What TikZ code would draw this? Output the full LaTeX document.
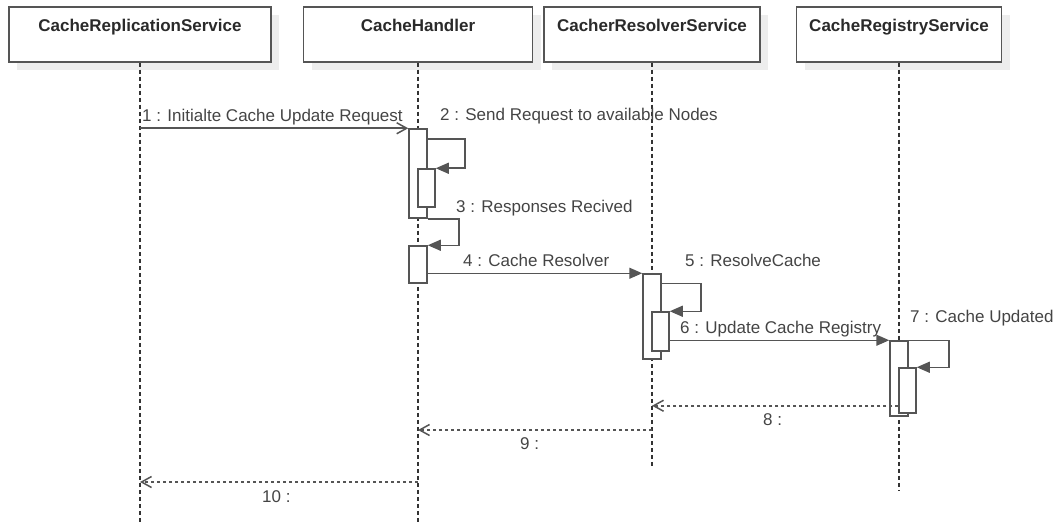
\documentclass[tikz,border=0pt]{standalone}
\usepackage{fontspec}
\setmainfont{Liberation Sans}
\usetikzlibrary{arrows.meta,shadows,calc}

\definecolor{edge}{HTML}{555555}
\definecolor{ink}{HTML}{2A2A2A}
\definecolor{msgink}{HTML}{444444}
\definecolor{life}{HTML}{333333}
\definecolor{shade}{HTML}{EDEDED}

\begin{document}
\begin{tikzpicture}[x=1pt,y=-1pt,
  header/.style={draw=edge, line width=1.5pt, fill=white, inner sep=0pt,
    minimum height=55pt, text height=24.5pt, text depth=30.5pt,
    font=\fontsize{17}{20}\selectfont\bfseries, text=ink,
    drop shadow={shadow xshift=8pt, shadow yshift=-8pt, fill=shade, opacity=1}},
  lifeline/.style={draw=life, line width=1.2pt, dash pattern=on 4pt off 3pt},
  act/.style={draw=edge, line width=1.5pt, fill=white, inner sep=0pt, minimum width=18pt},
  inneract/.style={act, minimum width=17pt},
  call/.style={draw=edge, line width=1.5pt, -{Triangle[length=13pt,width=11pt]}},
  request/.style={draw=edge, line width=1.5pt, -{Straight Barb[length=10pt,width=11pt]}},
  reply/.style={draw=edge, line width=1.5pt, dash pattern=on 3pt off 3pt,
    -{Straight Barb[length=10pt,width=11pt]}},
  msglabel/.style={anchor=base west, inner sep=0pt,
    font=\fontsize{17}{20}\selectfont, text=msgink},
]
\useasboundingbox (0,0) rectangle (1061,524);

% participants
\node[header, minimum width=262pt] (h1) at (140,34.5) {CacheReplicationService};
\node[header, minimum width=229pt] (h2) at (418,34.5) {CacheHandler};
\node[header, minimum width=216pt] (h3) at (652,34.5) {CacherResolverService};
\node[header, minimum width=205pt] (h4) at (899,34.5) {CacheRegistryService};

% lifelines
\coordinate (e1) at (140,524);
\coordinate (e2) at (418,524);
\coordinate (e3) at (652,468);
\coordinate (e4) at (899,490);
\draw[lifeline] (h1.south) -- (e1);
\draw[lifeline] (h2.south) -- (e2);
\draw[lifeline] (h3.south) -- (e3);
\draw[lifeline] (h4.south) -- (e4);

% activations of CacheHandler
\node[act, minimum height=89pt] (A) at (418,173.5) {};
\draw[request] (h1.south |- A.north) -- (A.north west);
\node[inneract, minimum height=38pt] (B) at (426.5,188) {};
\draw[call] ($(A.north east)+(0,11)$) -- ++(37,0) |- (B.north east);
\node[act, minimum height=37pt] (C) at (418,264.5) {};
\draw[call] (A.south east) -- ++(31,0) |- (C.north east);

% activations of CacherResolverService
\node[act, minimum height=85pt] (D) at (652,316.5) {};
\draw[call] (C.east |- D.north) -- (D.north west);
\node[inneract, minimum height=39pt] (E) at (660.5,331.5) {};
\draw[call] ($(D.north east)+(0,10)$) -- ++(39,0) |- (E.north east);

% activations of CacheRegistryService
\node[act, minimum height=75pt] (F) at (899,378.5) {};
\draw[call] (E.east |- F.north) -- (F.north west);
\node[inneract, minimum height=45pt] (G) at (907.5,390.5) {};
\draw[call] (F.north east) -- ++(40,0) |- (G.north east);

% replies
\coordinate (r8) at ($(G.south west)+(0,-8)$);
\draw[reply] (r8) -- (h3.south |- r8);
\coordinate (r9) at (652,430);
\draw[reply] (r9) -- (h2.south |- r9);
\coordinate (r10) at (418,482);
\draw[reply] (r10) -- (h1.south |- r10);

% message labels
\node[msglabel] (t1) at (142,122) {1 : Initialte Cache Update Request};
\node[msglabel] (t2) at (440,121) {2 : Send Request to available Nodes};
\node[msglabel] (t3) at (456,212) {3 : Responses Recived};
\node[msglabel] (t4) at (463,266) {4 : Cache Resolver};
\node[msglabel] (t5) at (685,266) {5 : ResolveCache};
\node[msglabel] (t6) at (680,333) {6 : Update Cache Registry};
\node[msglabel] (t7) at (910,322) {7 : Cache Updated};
\node[msglabel] (t8) at (763,425) {8 :};
\node[msglabel] (t9) at (520,449) {9 :};
\node[msglabel] (t10) at (262,502) {10 :};
\end{tikzpicture}
\end{document}
